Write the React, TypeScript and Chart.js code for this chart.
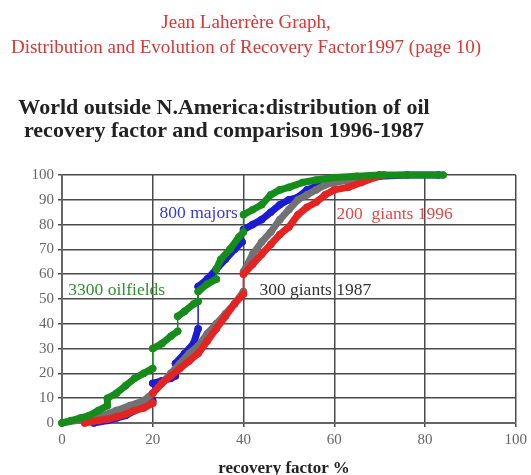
import React, { useEffect, useRef } from "react";
import { Chart, registerables } from "chart.js";

Chart.register(...registerables);

// 3300 oilfields
const oilfieldsX = [0, 2, 4, 6, 8, 10, 10, 12, 14, 16, 18, 20, 20, 22, 24, 25.5, 25.5, 27, 29, 30, 30, 32, 34, 34, 35, 37, 39, 40, 40, 42, 44, 46, 48, 50, 53, 56, 60, 65, 70, 76, 84];
const oilfieldsY = [0, 1, 2, 3, 5, 7, 10, 12, 15, 18, 20, 22, 30, 32, 35, 37, 43, 45, 48, 49, 53, 56, 58, 62, 66, 70, 75, 77, 84, 86, 88, 92, 94, 95, 97, 98, 99, 99.5, 100, 100, 100];
// 800 majors
const majorsX = [7, 10, 12, 14, 16, 18, 20, 20, 22, 24, 25, 25, 27, 29, 30, 30, 32, 34, 36, 38, 39.7, 40, 42, 44, 46, 48, 50, 52, 54, 58, 62, 66, 70, 76, 83];
const majorsY = [0, 1, 2, 3, 5, 7, 9, 16, 17, 18, 19, 24, 28, 32, 38, 55, 58, 62, 66, 70, 73, 78, 80, 82, 85, 88, 90, 91, 94, 97, 98.5, 99, 99.5, 100, 100];
// 300 giants 1987
const giants1987X = [0, 3, 6, 9, 12, 15, 18, 20, 22, 24, 26, 28, 30, 32, 34, 36, 38, 40, 40, 42, 44, 46, 48, 50, 52, 54, 56, 58, 60, 63, 66, 70];
const giants1987Y = [0, 1, 2, 3, 5, 7, 9, 12, 16, 20, 24, 28, 31, 36, 40, 44, 48, 53, 61, 68, 73, 77, 82, 86, 90, 92, 94, 96, 97, 98, 99, 100];
// 200 giants 1996
const giants1996X = [5, 8, 10, 12, 14, 16, 18, 20, 20, 22, 24, 26, 28, 30, 32, 34, 36, 38, 40, 40, 42, 44, 46, 48, 50, 52, 54, 56, 58, 60, 63, 66, 69, 71];
const giants1996Y = [0, 1, 1.5, 2.5, 3.5, 5, 6, 8, 12, 16, 19, 22, 25, 28, 33, 38, 43, 48, 52, 60, 64, 68, 72, 76, 79, 84, 87, 89, 92, 94, 95, 97, 99, 100];

const seriesLabels = ["3300 oilfields", "200  giants 1996", "300 giants 1987", "800 majors"];
const seriesColors = ["#168c1a", "#e42323", "#727272", "#1c1cd2"];
// annotation positions in data units
const labelTexts = ["800 majors", "200  giants 1996", "3300 oilfields", "300 giants 1987"];
const labelX = [21.5, 60.5, 1.4, 43.5];
const labelY = [84.5, 84, 53.5, 53.5];
const labelColors = ["#3a3ad0", "#e04848", "#2f8f2f", "#333333"];

const xTicks = [0, 20, 40, 60, 80, 100];

const pts = (xs: number[], ys: number[]) => xs.map((x, i) => ({ x, y: ys[i] }));

const labelPlugin = {
  id: "curveLabels",
  afterDatasetsDraw(chart: any) {
    const { ctx, scales } = chart;
    ctx.save();
    ctx.font = "17.5px 'Liberation Serif'";
    ctx.textBaseline = "middle";
    ctx.textAlign = "left";
    labelTexts.forEach((t, i) => {
      ctx.fillStyle = labelColors[i];
      ctx.fillText(t, scales.x.getPixelForValue(labelX[i]), scales.y.getPixelForValue(labelY[i]));
    });
    ctx.restore();
  },
};

export default function App() {
  const ref = useRef<HTMLCanvasElement>(null);
  useEffect(() => {
    const series = [
      pts(oilfieldsX, oilfieldsY),
      pts(giants1996X, giants1996Y),
      pts(giants1987X, giants1987Y),
      pts(majorsX, majorsY),
    ];
    const chart = new Chart(ref.current!, {
      type: "line",
      data: {
        datasets: series.map((d, i) => ({
          label: seriesLabels[i],
          data: d,
          borderColor: seriesColors[i],
          backgroundColor: seriesColors[i],
          borderWidth: 7,
          borderCapStyle: "round",
          borderJoinStyle: "round",
          pointRadius: 3.8,
          pointBorderWidth: 0,
          clip: 8,
          tension: 0,
          segment: {
            borderWidth: (c: any) => {
              const dx = Math.abs(c.p1.parsed.x - c.p0.parsed.x);
              const dy = Math.abs(c.p1.parsed.y - c.p0.parsed.y);
              return dy > 6 * dx && dy > 3 ? 1.5 : 7;
            },
          },
        })),
      },
      options: {
        animation: false,
        responsive: false,
        maintainAspectRatio: false,
        layout: { padding: { left: 32, right: 12, top: 175, bottom: 0 } },
        plugins: { legend: { display: false }, tooltip: { enabled: false } },
        scales: {
          x: {
            type: "linear",
            min: 0,
            max: 100,
            afterBuildTicks: (s: any) => {
              s.ticks = xTicks.map((v) => ({ value: v }));
            },
            afterFit: (s: any) => {
              s.height = 52;
            },
            grid: { color: "#4a4a4a", lineWidth: 1.5, tickLength: 4 },
            border: { color: "#666666", width: 2 },
            ticks: { color: "#666666", font: { family: "'Liberation Serif'", size: 15 }, padding: 4, maxRotation: 0 },
          },
          y: {
            type: "linear",
            min: 0,
            max: 100,
            afterFit: (s: any) => {
              s.width = 30;
            },
            grid: { color: "#4a4a4a", lineWidth: 1.5, tickLength: 4 },
            border: { color: "#666666", width: 2 },
            ticks: { stepSize: 10, color: "#666666", font: { family: "'Liberation Serif'", size: 15 }, padding: 4 },
          },
        },
      },
      plugins: [labelPlugin],
    } as any);
    return () => chart.destroy();
  }, []);

  return (
    <div style={{ position: "fixed", left: 0, top: 0, width: 531, height: 475, background: "#fff", overflow: "hidden" }}>
      <canvas ref={ref} width={531} height={475} style={{ position: "absolute", left: 0, top: 0, width: 531, height: 475 }} />
      <div
        style={{
          position: "absolute",
          left: 0,
          top: 9,
          width: 492,
          textAlign: "center",
          fontFamily: "'Liberation Serif', serif",
          fontSize: 19,
          lineHeight: "25px",
          color: "#dc3535",
          whiteSpace: "nowrap",
        }}
      >
        <div>Jean Laherrère Graph,</div>
        <div>Distribution and Evolution of Recovery Factor1997 (page 10)</div>
      </div>
      <div
        style={{
          position: "absolute",
          left: 0,
          top: 95,
          width: 448,
          textAlign: "center",
          fontFamily: "'Liberation Serif', serif",
          fontSize: 22,
          fontWeight: "bold",
          lineHeight: "23px",
          color: "#222",
          whiteSpace: "nowrap",
        }}
      >
        <div>World outside N.America:distribution of oil</div>
        <div>recovery factor and comparison 1996-1987</div>
      </div>
      <div
        style={{
          position: "absolute",
          left: 184,
          top: 458,
          width: 200,
          textAlign: "center",
          fontFamily: "'Liberation Serif', serif",
          fontSize: 17,
          fontWeight: "bold",
          lineHeight: "20px",
          color: "#222",
          whiteSpace: "nowrap",
        }}
      >
        recovery factor %
      </div>
    </div>
  );
}
